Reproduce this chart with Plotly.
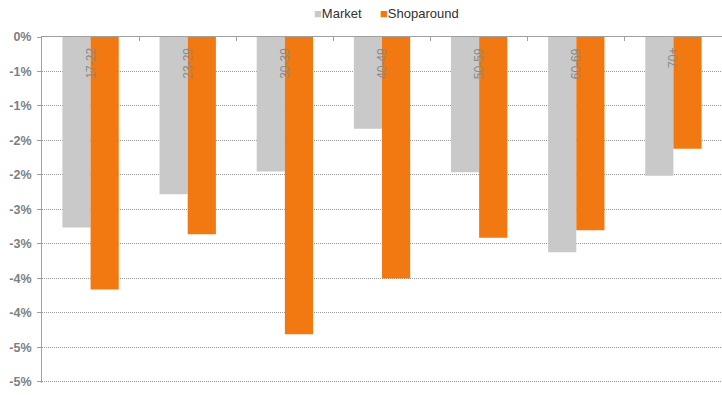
import plotly.graph_objects as go

# Age bands and the change for each series (percent)
age_bands = ["17-22", "23-29", "30-39", "40-49", "50-59", "60-69", "70+"]
market = [-2.76, -2.28, -1.95, -1.33, -1.96, -3.12, -2.01]
shoparound = [-3.66, -2.86, -4.31, -3.50, -2.91, -2.80, -1.62]

# Y axis ticks every half percent, labelled with whole-percent rounding
tick_vals = [0, -0.5, -1.0, -1.5, -2.0, -2.5, -3.0, -3.5, -4.0, -4.5, -5.0]
tick_text = ["0%", "-1%", "-1%", "-2%", "-2%", "-3%", "-3%", "-4%", "-4%", "-5%", "-5%"]

series_names = ["Market", "Shoparound"]
GREY = "#c9c9c9"
ORANGE = "#f27812"
FONT = "Liberation Sans, Arial, sans-serif"

W, H = 722, 395
M_L, M_R, M_T, M_B = 42, 0, 37, 12
plot_w, plot_h = W - M_L - M_R, H - M_T - M_B

fig = go.Figure()
fig.add_trace(go.Bar(x=age_bands, y=market, name=series_names[0], marker_color=GREY,
                     marker_line_width=0, showlegend=False))
fig.add_trace(go.Bar(x=age_bands, y=shoparound, name=series_names[1], marker_color=ORANGE,
                     marker_line_width=0, showlegend=False))

# Compact key above the plot: a small square swatch right before each name
key_left_px = [312, 378]
key_mid_px = 13
for name, col, px in zip(series_names, (GREY, ORANGE), key_left_px):
    fig.add_annotation(x=(px - M_L) / plot_w, y=(H - M_B - key_mid_px) / plot_h,
                       xref="paper", yref="paper",
                       text=f'<span style="color:{col}">■</span>{name}',
                       showarrow=False, xanchor="left", yanchor="middle",
                       font=dict(family=FONT, size=13, color="#303030"))

# Category labels hang from the zero axis, rotated to read upwards
for band in age_bands:
    fig.add_annotation(x=band, y=0, xref="x", yref="y", text=band, showarrow=False,
                       textangle=-90, yanchor="top", xanchor="center",
                       yshift=-9, xshift=-0.5,
                       font=dict(family=FONT, size=12, color="#8a8a8a"))

fig.update_layout(
    width=W, height=H,
    margin=dict(l=M_L, r=M_R, t=M_T, b=M_B),
    paper_bgcolor="white", plot_bgcolor="white",
    barmode="group", bargap=0.42, bargroupgap=0,
    font=dict(family=FONT, size=13, color="#404040"),
    showlegend=False,
)
fig.update_xaxes(
    side="top", showticklabels=False, showline=True, linecolor="#a0a0a0", linewidth=1,
    ticks="inside", ticklen=4, tickcolor="#a0a0a0", tickson="boundaries",
    showgrid=False, zeroline=False, fixedrange=True,
)
fig.update_yaxes(
    range=[-5.015, 0], tickvals=tick_vals, ticktext=tick_text,
    showline=True, linecolor="#a0a0a0", linewidth=1,
    ticks="outside", ticklen=4, tickcolor="#a0a0a0", ticklabelstandoff=3,
    tickfont=dict(family=FONT, size=12.5, color="#808080", weight="bold"),
    showgrid=True, gridcolor="#9a9a9a", griddash="1px,1px", gridwidth=1,
    zeroline=False, fixedrange=True,
)

fig.write_html("out.html")
